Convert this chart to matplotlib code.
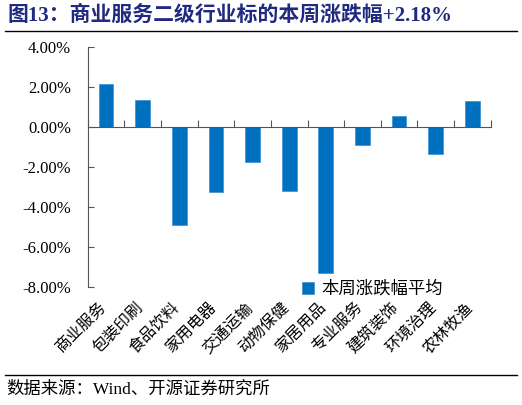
import numpy as np
import matplotlib
matplotlib.use("Agg")
import matplotlib.pyplot as plt
from matplotlib.ticker import FuncFormatter

plt.rcParams['font.family'] = ['Liberation Serif', 'Noto Sans CJK SC']

categories = ['商业服务', '包装印刷', '食品饮料', '家用电器', '交通运输', '动物保健',
              '家居用品', '专业服务', '建筑装饰', '环境治理', '农林牧渔']
weekly_change = [2.18, 1.35, -4.88, -3.25, -1.75, -3.19, -7.30, -0.87, 0.58, -1.35, 1.32]
yticks = [4, 2, 0, -2, -4, -6, -8]

fig = plt.figure(figsize=(5.22, 4.05), dpi=100)
ax = fig.add_axes([0.168, 0.291, 0.772, 0.592])

x = np.arange(len(categories))
ax.bar(x, weekly_change, width=0.4, color='#0070C0', edgecolor='#3A8FD6',
       linewidth=0.5, label='本周涨跌幅平均', zorder=2)

ax.set_xlim(-0.5, len(categories) - 0.5)
ax.set_ylim(-8, 4)
ax.set_yticks(yticks)
ax.yaxis.set_major_formatter(FuncFormatter(lambda v, p: '%.2f%%' % v))
ax.tick_params(axis='y', direction='in', length=4, width=0.8, color='#555555',
               labelsize=12, pad=12)

# x axis sits on zero, ticks between categories
ax.spines['bottom'].set_position(('data', 0))
ax.spines['bottom'].set_color('#555555')
ax.spines['left'].set_color('#555555')
ax.spines['top'].set_visible(False)
ax.spines['right'].set_visible(False)
ax.set_xticks(np.arange(len(categories) + 1) - 0.5)
ax.set_xticklabels([])
ax.tick_params(axis='x', direction='in', length=5, width=0.8, color='#555555')

for i, name in enumerate(categories):
    ax.text(i + 0.1, -0.05, name, transform=ax.get_xaxis_transform(),
            rotation=45, ha='right', va='top', fontsize=11.5,
            family=['Noto Sans CJK SC'])

leg = ax.legend(loc='lower right', bbox_to_anchor=(0.92, -0.11), frameon=False,
                handlelength=0.7, handleheight=0.7, handletextpad=0.4,
                prop={'family': 'Noto Sans CJK SC', 'size': 12.5})

fig.text(0.015, 0.962, '图13：商业服务二级行业标的本周涨跌幅+2.18%', fontsize=15,
         fontweight='bold', color='#1F2A80', va='center', ha='left')
fig.add_artist(plt.Line2D([0.01, 0.99], [0.923, 0.923], color='black', linewidth=1))
fig.add_artist(plt.Line2D([0.01, 0.99], [0.074, 0.074], color='black', linewidth=1))
fig.text(0.013, 0.037, '数据来源：Wind、开源证券研究所', fontsize=12.5, va='center', ha='left')

fig.savefig('out.png', dpi=100)
